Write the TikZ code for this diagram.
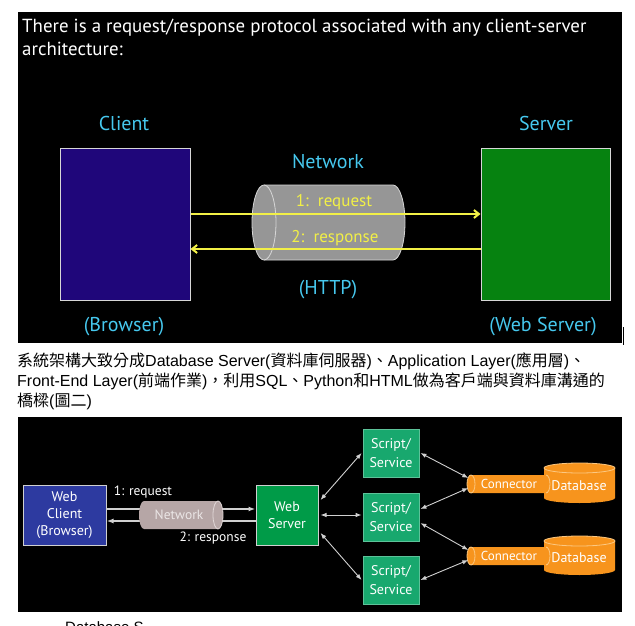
\documentclass[tikz,border=0pt]{standalone}
\usepackage{fontspec}
\setmainfont{PT Sans}
\newfontfamily\cjkf{Noto Sans CJK TC}
\newfontfamily\arialf{Liberation Sans}
\usetikzlibrary{arrows.meta}
\newcommand\myfs[2]{\fontsize{#1}{#2}\selectfont}
\newcommand\latn[1]{{\arialf #1}}
\definecolor{clientblue}{RGB}{31,6,122}
\definecolor{servergreen}{RGB}{6,130,16}
\definecolor{handcyan}{RGB}{70,200,238}
\definecolor{arryellow}{RGB}{242,240,70}
\definecolor{cylgray}{RGB}{150,150,150}
\definecolor{cylline}{RGB}{215,215,215}
\definecolor{wcblue}{RGB}{45,58,160}
\definecolor{wsgreen}{RGB}{0,155,72}
\definecolor{scgreen}{RGB}{24,168,110}
\definecolor{dborange}{RGB}{247,148,29}
\definecolor{dbline}{RGB}{252,200,130}
\definecolor{netpink}{RGB}{182,166,166}
\definecolor{netline}{RGB}{225,215,215}
\definecolor{nettext}{RGB}{235,230,230}
\definecolor{lgray}{RGB}{208,208,208}
\begin{document}
\begin{tikzpicture}[x=1pt,y=-1pt,
  bigbox/.style={draw=cylline, line width=1pt, inner sep=0pt},
  hand/.style={text=handcyan, font=\myfs{20}{22}},
  ylab/.style={text=arryellow, font=\myfs{17}{19}},
  yarr/.style={draw=arryellow, line width=2pt, -{Straight Barb[length=5pt,width=8pt]}},
  bbox/.style={draw=lgray, line width=1pt, text=white, align=center, inner sep=0pt, font=\myfs{14}{17}},
  sbox/.style={draw=scgreen!70!white, line width=0.8pt, fill=scgreen, text=white, align=center, inner sep=0pt, minimum width=56pt, minimum height=48pt, font=\myfs{14}{19}},
  wlab/.style={text=white, font=\myfs{13.5}{15}},
  para/.style={anchor=base west, inner sep=0pt, font=\cjkf\myfs{16}{18}},
  garr/.style={draw=lgray, line width=1.6pt, -{Latex[length=7pt,width=5pt]}},
  darr/.style={draw=lgray, line width=0.9pt, {Latex[length=6pt,width=4.5pt]}-{Latex[length=6pt,width=4.5pt]}},
  orng/.style={fill=dborange},
  olin/.style={draw=dbline, line width=0.8pt}
]
\useasboundingbox (0,0) rectangle (635,626);
\fill[white] (0,0) rectangle (635,626);
% ---------- top panel ----------
\fill[black] (18,12) rectangle (622,343);
\node[anchor=base west, text=white, font=\myfs{18.9}{21}, inner sep=0pt] (t1) at (22,33) {There is a request/response protocol associated with any client-server};
\node[anchor=base west, text=white, font=\myfs{18.9}{21}, inner sep=0pt] (t2) at (22,56) {architecture:};

\node[hand] (lclient) at (124,123) {Client};
\node[hand] (lserver) at (546,123) {Server};
\node[hand] (lnet) at (328,162) {Network};
\node[hand] (lhttp) at (328,290) {(HTTP)};
\node[hand] (lbrowser) at (124,327) {(Browser)};
\node[hand] (lwebserver) at (543,327) {(Web Server)};

\node[bigbox, fill=clientblue, minimum width=130pt, minimum height=152pt] (client) at (125,224) {};
\node[bigbox, fill=servergreen, minimum width=129pt, minimum height=152pt] (server) at (545.5,224) {};

% network cylinder
\fill[cylgray] (264,185) -- (393,185) arc[start angle=90,end angle=-90,x radius=12pt,y radius=37.5pt] -- (264,260) arc[start angle=270,end angle=90,x radius=12pt,y radius=37.5pt] -- cycle;
\draw[cylline, line width=0.8pt] (264,185) -- (393,185) arc[start angle=90,end angle=-90,x radius=12pt,y radius=37.5pt] -- (264,260);
\draw[cylline, line width=0.8pt] (264,222.5) ellipse[x radius=12pt,y radius=37.5pt];

\node[ylab] (req) at (334,202) {1:\ \ request};
\node[ylab] (resp) at (335,238) {2:\ \ response};
\draw[yarr] ([yshift=10pt]client.east) -- ([yshift=10pt]server.west);
\draw[yarr] ([yshift=-25pt]server.west) -- ([yshift=-25pt]client.east);

\draw[line width=1.2pt] (623.5,327) -- (623.5,345);

% ---------- paragraph ----------
\node[para] (p1) at (17,366) {系統架構大致分成\latn{Database Server(}資料庫伺服器\latn{)}、\latn{Application Layer(}應用層\latn{)}、};
\node[para] (p2) at (17,386) {\latn{Front-End Layer(}前端作業\latn{)}，利用\latn{SQL}、\latn{Python}和\latn{HTML}做為客戶端與資料庫溝通的};
\node[para] (p3) at (17,406) {橋樑\latn{(}圖二\latn{)}};

% ---------- bottom panel ----------
\fill[black] (18,417) rectangle (622,612);

\node[bbox, fill=wcblue, minimum width=83pt, minimum height=60pt] (wc) at (64.5,515) {Web\\Client\\(Browser)};
\node[bbox, fill=wsgreen, minimum width=62pt, minimum height=60pt] (ws) at (287,515) {Web\\Server};

\draw[garr] ([yshift=6pt]wc.east) -- ([yshift=6pt]ws.west);
\draw[garr] ([yshift=-6pt]ws.west) -- ([yshift=-6pt]wc.east);

\fill[netpink] (144,501) -- (218,501) arc[start angle=90,end angle=-90,x radius=5pt,y radius=14pt] -- (144,529) arc[start angle=270,end angle=90,x radius=5pt,y radius=14pt] -- cycle;
\draw[draw=netline, line width=0.8pt] (218,515) ellipse[x radius=5pt,y radius=14pt];
\node[text=nettext, font=\myfs{13.5}{15}] (net2) at (179,515) {Network};

\node[wlab] (req2) at (143,492) {1: request};
\node[wlab] (resp2) at (213,538) {2: response};

\node[sbox] (s1) at (391,453) {Script/\\Service};
\node[sbox] (s2) at (391,517) {Script/\\Service};
\node[sbox] (s3) at (391,580) {Script/\\Service};

% databases
\fill[orng] (544,468) -- (544,498) arc[start angle=180,end angle=360,x radius=35.5pt,y radius=5pt] -- (615,468) arc[start angle=0,end angle=180,x radius=35.5pt,y radius=5pt] -- cycle;
\draw[olin] (579.5,468) ellipse[x radius=35.5pt,y radius=5pt];
\fill[orng] (544,541) -- (544,570) arc[start angle=180,end angle=360,x radius=35.5pt,y radius=5pt] -- (615,541) arc[start angle=0,end angle=180,x radius=35.5pt,y radius=5pt] -- cycle;
\draw[olin] (579.5,541) ellipse[x radius=35.5pt,y radius=5pt];
\node[text=white, font=\myfs{14}{16}] (db1) at (579,486) {Database};
\node[text=white, font=\myfs{14}{16}] (db2) at (579,558) {Database};

% connectors
\fill[orng] (471,475) -- (546,475) arc[start angle=90,end angle=-90,x radius=4pt,y radius=9pt] -- (471,493) arc[start angle=270,end angle=90,x radius=4pt,y radius=9pt] -- cycle;
\draw[olin] (471,484) ellipse[x radius=4pt,y radius=9pt];
\draw[olin] (546,475) arc[start angle=90,end angle=-90,x radius=4pt,y radius=9pt];
\node[text=white, font=\myfs{13}{15}, minimum width=75pt, minimum height=18pt, inner sep=0pt] (c1) at (509,484) {Connector};

\fill[orng] (471,547) -- (546,547) arc[start angle=90,end angle=-90,x radius=4pt,y radius=9pt] -- (471,565) arc[start angle=270,end angle=90,x radius=4pt,y radius=9pt] -- cycle;
\draw[olin] (471,556) ellipse[x radius=4pt,y radius=9pt];
\draw[olin] (546,547) arc[start angle=90,end angle=-90,x radius=4pt,y radius=9pt];
\node[text=white, font=\myfs{13}{15}, minimum width=75pt, minimum height=18pt, inner sep=0pt] (c2) at (509,556) {Connector};

% double arrows
\draw[darr] ([shift={(2pt,15pt)}]ws.east) -- ([xshift=-1pt]s1.west);
\draw[darr] ([xshift=2pt]ws.east) -- ([xshift=-1pt]ws.east -| s2.west);
\draw[darr] ([shift={(2pt,-18pt)}]ws.east) -- ([xshift=-1pt]s3.west);
\draw[darr] ([xshift=1pt]s1.east) -- ([shift={(-3pt,6pt)}]c1.west);
\draw[darr] ([shift={(1pt,8pt)}]s2.east) -- ([shift={(-3pt,-4pt)}]c1.west);
\draw[darr] ([shift={(1pt,-6pt)}]s2.east) -- ([shift={(-3pt,6pt)}]c2.west);
\draw[darr] ([xshift=1pt]s3.east) -- ([shift={(-3pt,-4pt)}]c2.west);

% text cut by the lower edge, as in the reference
\node[anchor=base west, inner sep=0pt, font=\arialf\myfs{15}{17}] (dbs) at (65,632) {Database S};
\end{tikzpicture}
\end{document}
